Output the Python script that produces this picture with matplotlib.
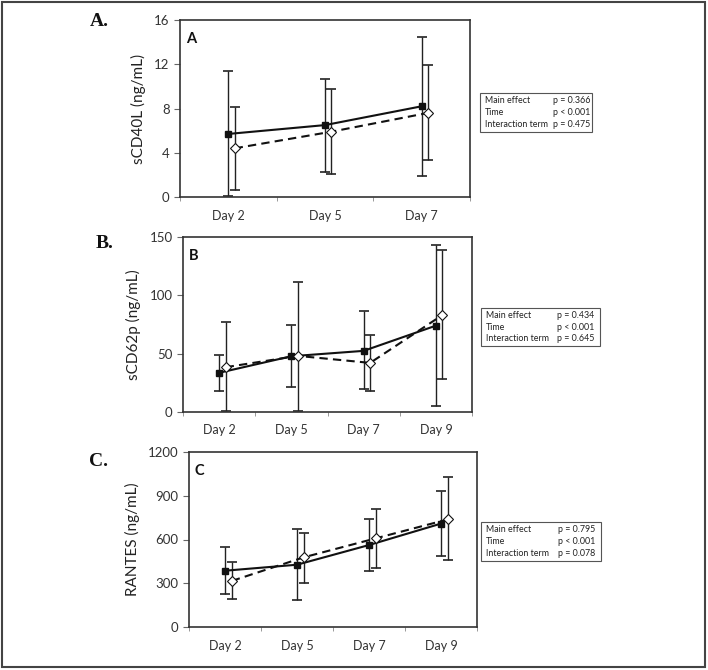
import matplotlib
matplotlib.use("Agg")
import matplotlib.pyplot as plt
from matplotlib.patches import Rectangle
import numpy as np

plt.rcParams['font.family'] = ['Lato', 'DejaVu Sans']

# panel A - sCD40L
days_a = ["Day 2", "Day 5", "Day 7"]
a_solid = [5.7, 6.5, 8.2]
a_solid_lo = [0.1, 2.3, 1.9]
a_solid_hi = [11.4, 10.7, 14.5]
a_dash = [4.4, 5.9, 7.6]
a_dash_lo = [0.6, 2.1, 3.3]
a_dash_hi = [8.1, 9.8, 11.9]
a_stats = ["p = 0.366", "p < 0.001", "p = 0.475"]

# panel B - sCD62p
days_b = ["Day 2", "Day 5", "Day 7", "Day 9"]
b_solid = [33.6, 47.8, 52.4, 74.0]
b_solid_lo = [17.6, 21.3, 19.4, 5.1]
b_solid_hi = [49.2, 74.9, 86.2, 143.4]
b_dash = [38.4, 48.1, 42.1, 83.1]
b_dash_lo = [0.5, 0.5, 18.2, 27.9]
b_dash_hi = [77.1, 111.6, 66.3, 138.9]
b_stats = ["p = 0.434", "p < 0.001", "p = 0.645"]

# panel C - RANTES
days_c = ["Day 2", "Day 5", "Day 7", "Day 9"]
c_solid = [386, 427, 562, 709]
c_solid_lo = [223, 185, 386, 487]
c_solid_hi = [552, 670, 738, 932]
c_dash = [316, 478, 608, 738]
c_dash_lo = [191, 300, 407, 457]
c_dash_hi = [443, 647, 809, 1029]
c_stats = ["p = 0.795", "p < 0.001", "p = 0.078"]

stat_names = ["Main effect", "Time", "Interaction term"]

W, H = 708, 670
fig = plt.figure(figsize=(W / 100, H / 100), dpi=100)


def px_axes(left, top, right, bottom):
    return fig.add_axes([left / W, 1 - bottom / H, (right - left) / W, (bottom - top) / H])


def draw_panel(ax, days, solid, slo, shi, dash, dlo, dhi, ymax, yticks, ylabel, letter, off):
    x = np.arange(len(days))
    s = np.array(solid)
    d = np.array(dash)
    ax.errorbar(x, s, yerr=[s - np.array(slo), np.array(shi) - s], fmt='none',
                ecolor='#222222', elinewidth=1.0, capsize=3.5, capthick=1.2, zorder=2)
    ax.errorbar(x + off, d, yerr=[d - np.array(dlo), np.array(dhi) - d], fmt='none',
                ecolor='#222222', elinewidth=1.0, capsize=3.5, capthick=1.2, zorder=2)
    ax.plot(x, s, '-', color='#111111', lw=1.5, marker='s', ms=5,
            mfc='#111111', mec='#111111', zorder=4)
    ax.plot(x + off, d, '--', color='#111111', lw=1.5, dashes=(4, 2.5), marker='D', ms=5.5,
            mfc='white', mec='#111111', mew=0.8, zorder=5)
    ax.set_xlim(-0.5, len(days) - 0.5)
    ax.set_ylim(0, ymax)
    ax.set_yticks(yticks)
    ax.set_xticks(x)
    ax.set_xticklabels(days)
    ax.set_xticks(np.arange(len(days) + 1) - 0.5, minor=True)
    ax.tick_params(axis='x', which='major', length=0, pad=9, labelsize=9, labelcolor='#333333')
    ax.tick_params(axis='x', which='minor', length=3, color='#888888', direction='out')
    ax.tick_params(axis='y', length=4, color='#666666', labelsize=9.5, labelcolor='#333333')
    for sp in ax.spines.values():
        sp.set_color('#333333')
        sp.set_linewidth(1.2)
    ax.set_ylabel(ylabel, fontsize=11, color='#222222', labelpad=6)
    ax.text(0.02, 0.93, letter, transform=ax.transAxes, fontsize=10.5, fontweight='bold',
            va='top', ha='left', color='#111111')


ax_a = px_axes(180, 20, 470, 197)
draw_panel(ax_a, days_a, a_solid, a_solid_lo, a_solid_hi, a_dash, a_dash_lo, a_dash_hi,
           16, [0, 4, 8, 12, 16], "sCD40L (ng/mL)", "A", 0.065)

ax_b = px_axes(183, 237, 472, 412)
draw_panel(ax_b, days_b, b_solid, b_solid_lo, b_solid_hi, b_dash, b_dash_lo, b_dash_hi,
           150, [0, 50, 100, 150], "sCD62p (ng/mL)", "B", 0.09)

ax_c = px_axes(189, 452, 477, 627)
draw_panel(ax_c, days_c, c_solid, c_solid_lo, c_solid_hi, c_dash, c_dash_lo, c_dash_hi,
           1200, [0, 300, 600, 900, 1200], "RANTES (ng/mL)", "C", 0.095)


def stat_box(left, top, right, bottom, col2, stats):
    fig.add_artist(Rectangle((left / W, 1 - bottom / H), (right - left) / W, (bottom - top) / H,
                             transform=fig.transFigure, fill=False, edgecolor='#555555', lw=0.8))
    step = (bottom - top) / 3.3
    for i, (name, val) in enumerate(zip(stat_names, stats)):
        y = top + step * (i + 0.65)
        fig.text((left + 5) / W, 1 - y / H, name, fontsize=6.4,
                 va='center', ha='left', color='#222222')
        fig.text(col2 / W, 1 - y / H, val, fontsize=6.4,
                 va='center', ha='left', color='#222222')


stat_box(480, 93, 592, 132, 553, a_stats)
stat_box(481, 308, 600, 346, 557, b_stats)
stat_box(481, 522, 601, 561, 558, c_stats)

# panel letters
for lab, xp, yp in [("A.", 90, 22), ("B.", 96, 243), ("C.", 89, 462)]:
    fig.text(xp / W, 1 - yp / H, lab, fontsize=14, fontweight='bold',
             family=['Liberation Serif', 'DejaVu Serif'],
             va='center', ha='left', color='#111111')

# outer frame
fig.add_artist(Rectangle((2 / W, 3 / H), 703 / W, 665 / H, transform=fig.transFigure,
                         fill=False, edgecolor='#444444', lw=1.5))

fig.savefig("out.png", dpi=100)
